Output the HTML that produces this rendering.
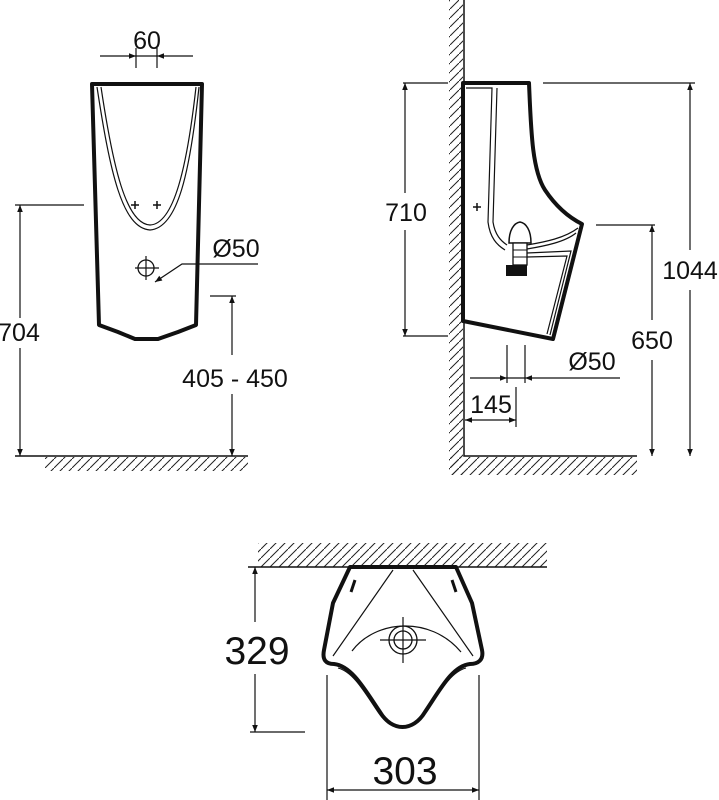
<!DOCTYPE html>
<html><head><meta charset="utf-8"><style>
html,body{margin:0;padding:0;background:#fff;}
svg{display:block;}
text{font-family:"Liberation Sans",sans-serif;fill:#111;}
</style></head><body>
<svg width="719" height="800" viewBox="0 0 719 800" xmlns="http://www.w3.org/2000/svg">
<defs>
<pattern id="h" patternUnits="userSpaceOnUse" width="9" height="9">
<line x1="0" y1="9" x2="9" y2="0" stroke="#222" stroke-width="1"/>
</pattern>
<marker id="a" viewBox="0 0 10 10" refX="10" refY="5" markerWidth="12" markerHeight="7" markerUnits="userSpaceOnUse" orient="auto-start-reverse">
<path d="M0,1 L10,5 L0,9 z" fill="#111"/>
</marker>
</defs>
<g stroke="#111" fill="none">
<!-- FRONT VIEW -->
<path d="M92,84 L202,84 L196,325 L178,332 L158,339 L135,339 L118,332 L99,325 Z" stroke-width="4" stroke-linejoin="round"/>
<path d="M97,87 C110,172 122,228 150,230 C178,228 190,172 199,87" stroke-width="1.2"/>
<path d="M101,87 C113,167 126,224 150,225 C174,224 187,167 196,87" stroke-width="1.2"/>
<path d="M131,205h8M135,201v8M153,205h8M157,201v8" stroke-width="1.5"/>
<circle cx="146" cy="268" r="8" stroke-width="1.3"/>
<path d="M135,268h24M146,256v24" stroke-width="1.2"/>
<path d="M258,264 L182,264 L155,282" stroke-width="1.2" marker-end="url(#a)"/>
<path d="M100,56 L136,56" stroke-width="1.2" marker-end="url(#a)"/>
<path d="M193,56 L157,56" stroke-width="1.2" marker-end="url(#a)"/>
<path d="M136,56h21M136,48v20M157,48v20" stroke-width="1.2"/>
<path d="M15,205h69M210,296h26" stroke-width="1.2"/>
<path d="M20,318 L20,205" stroke-width="1.2" marker-end="url(#a)"/>
<path d="M20,348 L20,456" stroke-width="1.2" marker-end="url(#a)"/>
<path d="M232,355 L232,296" stroke-width="1.2" marker-end="url(#a)"/>
<path d="M232,394 L232,456" stroke-width="1.2" marker-end="url(#a)"/>
<rect x="45" y="457" width="203" height="14" fill="url(#h)" stroke="none"/>
<path d="M15,456h233" stroke-width="1.5"/>

<!-- SIDE VIEW -->
<rect x="449" y="0" width="14" height="475" fill="url(#h)" stroke="none"/>
<rect x="449" y="457" width="188" height="18" fill="url(#h)" stroke="none"/>
<path d="M464,0 V456 H637" stroke-width="1.5"/>
<path d="M463,83 L529,83 C531,130 532,170 545,190 C557,208 570,218 582,224 L553,339 L463,321 Z" stroke-width="4" stroke-linejoin="round"/>
<path d="M466,88 L492,88 L488,222 C490,238 497,245 505,250" stroke-width="1.2"/>
<path d="M497,88 L493,222 C495,235 501,241 507,245" stroke-width="1.2"/>
<path d="M527,245 C545,242 565,238 578,228" stroke-width="1.2"/>
<path d="M527,249 C545,246 565,242 576,233" stroke-width="1.2"/>
<path d="M527,253 L571,251 L550,335" stroke-width="1.2"/>
<path d="M527,257 L567,256 L547,334" stroke-width="1.2"/>
<path d="M509,243 C509,230 514,223 520,222 C526,223 531,230 531,243 Z" stroke-width="1.5" fill="#fff"/>
<rect x="513" y="243" width="14" height="22" stroke-width="1.3" fill="#fff"/>
<path d="M513,250h14M513,257h14" stroke-width="1"/>
<rect x="506" y="265" width="21" height="11" fill="#111" stroke="none"/>
<path d="M473,207h8M477,203v8" stroke-width="1.5"/>
<path d="M403,83h45M403,336h45M543,83h152M596,225h59" stroke-width="1.2"/>
<path d="M405,193 L405,83" stroke-width="1.2" marker-end="url(#a)"/>
<path d="M405,230 L405,336" stroke-width="1.2" marker-end="url(#a)"/>
<path d="M690,250 L690,83" stroke-width="1.2" marker-end="url(#a)"/>
<path d="M690,290 L690,456" stroke-width="1.2" marker-end="url(#a)"/>
<path d="M652,320 L652,225" stroke-width="1.2" marker-end="url(#a)"/>
<path d="M652,360 L652,456" stroke-width="1.2" marker-end="url(#a)"/>
<path d="M507,345v38M525,345v38M507,378h18" stroke-width="1.2"/>
<path d="M470,378 L507,378" stroke-width="1.2" marker-end="url(#a)"/>
<path d="M620,378 L525,378" stroke-width="1.2" marker-end="url(#a)"/>
<path d="M516,387v40" stroke-width="1.2"/>
<path d="M490,420 L465,420" stroke-width="1.2" marker-end="url(#a)"/>
<path d="M490,420 L516,420" stroke-width="1.2" marker-end="url(#a)"/>

<!-- TOP VIEW -->
<rect x="258" y="543" width="289" height="24" fill="url(#h)" stroke="none"/>
<path d="M248,567h299" stroke-width="1.5"/>
<path d="M350,567 L456,567 L472,603 L482,650 C484,660 478,664 470,664 C452,666 440,690 425,712 C413,732 392,732 380,712 C365,690 352,666 334,664 C326,664 322,660 324,650 L333,603 Z" stroke-width="4" stroke-linejoin="round"/>
<path d="M338,668 C354,672 366,695 380,715 C392,730 412,730 424,715 C438,695 450,672 466,668" stroke-width="1"/>
<path d="M393,570 L333,656M413,570 L473,656" stroke-width="1.2"/>
<path d="M352,651 C375,620 430,615 461,652" stroke-width="1.2"/>
<circle cx="403" cy="640" r="14" stroke-width="1.3"/>
<circle cx="403" cy="640" r="9" stroke-width="1.3"/>
<path d="M380,640h46M403,617v46" stroke-width="1.2"/>
<path d="M355,580 L351,592M452,580 L456,592" stroke-width="3"/>
<path d="M250,732h55" stroke-width="1.2"/>
<path d="M255,622 L255,567" stroke-width="1.2" marker-end="url(#a)"/>
<path d="M255,674 L255,732" stroke-width="1.2" marker-end="url(#a)"/>
<path d="M327,675v125M479,675v125" stroke-width="1.2"/>
<path d="M400,790 L327,790" stroke-width="1.2" marker-end="url(#a)"/>
<path d="M400,790 L479,790" stroke-width="1.2" marker-end="url(#a)"/>
</g>
<g font-size="25">
<text x="147" y="49" text-anchor="middle">60</text>
<text x="236" y="257" text-anchor="middle">Ø50</text>
<text x="19" y="341" text-anchor="middle">704</text>
<text x="235" y="387" text-anchor="middle">405 - 450</text>
<text x="406" y="221" text-anchor="middle">710</text>
<text x="690" y="279" text-anchor="middle">1044</text>
<text x="652" y="349" text-anchor="middle">650</text>
<text x="592" y="370" text-anchor="middle">Ø50</text>
<text x="491" y="413" text-anchor="middle">145</text>
</g>
<g font-size="39">
<text x="257" y="664" text-anchor="middle">329</text>
<text x="405" y="784" text-anchor="middle">303</text>
</g>
</svg>
</body></html>
